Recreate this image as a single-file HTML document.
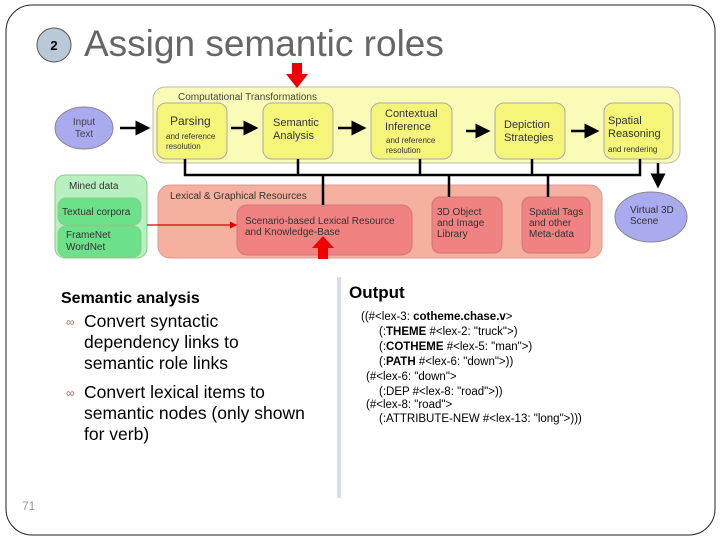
<!DOCTYPE html>
<html><head><meta charset="utf-8"><style>
body{margin:0;background:#fff;}
svg{display:block;font-family:"Liberation Sans",sans-serif;}
</style></head><body>
<svg width="720" height="540" viewBox="0 0 720 540" xmlns="http://www.w3.org/2000/svg">
<defs>
<marker id="ah" markerWidth="6" markerHeight="6" refX="5" refY="3" orient="auto"><path d="M0,0 L6,3 L0,6 z" fill="#000"/></marker>
<marker id="ar" markerWidth="6" markerHeight="6" refX="5" refY="3" orient="auto"><path d="M0,0 L6,3 L0,6 z" fill="#d00"/></marker>
</defs>
<rect x="6" y="5" width="709" height="530" rx="26" fill="#fff" stroke="#222" stroke-width="1"/>
<circle cx="54" cy="45" r="17" fill="#b9c9d7" stroke="#555" stroke-width="1"/>
<text x="54" y="50" font-size="13" font-weight="bold" text-anchor="middle">2</text>
<text x="84" y="56" font-size="37" fill="#666">Assign semantic roles</text>

<ellipse cx="84" cy="128" rx="29" ry="21" fill="#aaaaee" stroke="#888"/>
<text x="84" y="125" font-size="10" fill="#444" text-anchor="middle">Input</text>
<text x="84" y="137" font-size="10" fill="#444" text-anchor="middle">Text</text>
<line x1="120" y1="128" x2="148" y2="128" stroke="#000" stroke-width="2.5" marker-end="url(#ah)"/>

<rect x="153" y="87" width="527" height="76" rx="12" fill="#fbfbb8" stroke="#bbb"/>
<text x="178" y="100" font-size="10" fill="#444">Computational Transformations</text>
<g fill="#f5f57a" stroke="#aaa">
<rect x="157" y="103" width="70" height="56" rx="9"/>
<rect x="263" y="103" width="70" height="56" rx="9"/>
<rect x="371" y="103" width="81" height="56" rx="9"/>
<rect x="495" y="103" width="70" height="56" rx="9"/>
<rect x="604" y="103" width="69" height="56" rx="9"/>
</g>
<g fill="#333">
<text x="170" y="125" font-size="12">Parsing</text>
<text x="166" y="139" font-size="8">and reference</text>
<text x="166" y="149" font-size="8">resolution</text>
<text x="273" y="126" font-size="11">Semantic</text>
<text x="273" y="139" font-size="11">Analysis</text>
<text x="385" y="117" font-size="11">Contextual</text>
<text x="385" y="130" font-size="11">Inference</text>
<text x="386" y="143" font-size="8">and reference</text>
<text x="386" y="153" font-size="8">resolution</text>
<text x="504" y="128" font-size="11">Depiction</text>
<text x="504" y="141" font-size="11">Strategies</text>
<text x="608" y="124" font-size="11">Spatial</text>
<text x="608" y="137" font-size="11">Reasoning</text>
<text x="608" y="152" font-size="8">and rendering</text>
</g>
<g stroke="#000" stroke-width="2.5">
<line x1="231" y1="128" x2="256" y2="128" marker-end="url(#ah)"/>
<line x1="338" y1="128" x2="364" y2="128" marker-end="url(#ah)"/>
<line x1="466" y1="131" x2="488" y2="131" marker-end="url(#ah)"/>
<line x1="571" y1="131" x2="597" y2="131" marker-end="url(#ah)"/>
</g>
<rect x="292" y="63" width="10" height="12" fill="#e00"/>
<path d="M286,74 L308,74 L297,88 z" fill="#e00"/>

<rect x="55" y="175" width="92" height="83" rx="10" fill="#b8f0c0" stroke="#8c8"/>
<text x="69" y="189" font-size="10" fill="#333">Mined data</text>
<rect x="58" y="198" width="83" height="27" rx="8" fill="#6de08a" stroke="#8c8"/>
<text x="62" y="215" font-size="10" fill="#333">Textual corpora</text>
<rect x="58" y="226" width="83" height="31" rx="8" fill="#6de08a" stroke="#8c8"/>
<text x="66" y="238" font-size="10" fill="#333">FrameNet</text>
<text x="66" y="250" font-size="10" fill="#333">WordNet</text>

<rect x="158" y="185" width="444" height="73" rx="12" fill="#f5b0a0" stroke="#d99"/>
<text x="170" y="199" font-size="10" fill="#333">Lexical &amp; Graphical Resources</text>
<g fill="#f08282" stroke="#c77">
<rect x="237" y="205" width="175" height="50" rx="10"/>
<rect x="432" y="197" width="70" height="56" rx="8"/>
<rect x="522" y="197" width="68" height="56" rx="8"/>
</g>
<g fill="#333" font-size="10">
<text x="245" y="224">Scenario-based Lexical Resource</text>
<text x="245" y="235">and Knowledge-Base</text>
<text x="437" y="215">3D Object</text>
<text x="437" y="226">and  Image</text>
<text x="437" y="237">Library</text>
<text x="529" y="215">Spatial Tags</text>
<text x="529" y="226">and other</text>
<text x="529" y="237">Meta-data</text>
</g>
<line x1="147" y1="225" x2="236" y2="225" stroke="#d00" stroke-width="1.2" marker-end="url(#ar)"/>
<rect x="318" y="247" width="10" height="12" fill="#e00"/>
<path d="M312,248 L334,248 L323,236 z" fill="#e00"/>

<g stroke="#000" stroke-width="2.5" fill="none">
<path d="M185,159 V175 H640 V159"/>
<line x1="298" y1="159" x2="298" y2="175"/>
<line x1="420" y1="159" x2="420" y2="175"/>
<line x1="532" y1="159" x2="532" y2="175"/>
<line x1="323" y1="175" x2="323" y2="205"/>
<line x1="449" y1="175" x2="449" y2="197"/>
<line x1="548" y1="175" x2="548" y2="197"/>
<line x1="658" y1="163" x2="658" y2="186" marker-end="url(#ah)"/>
</g>
<ellipse cx="651" cy="217" rx="36" ry="25" fill="#aaaaee" stroke="#888"/>
<text x="630" y="213" font-size="10" fill="#333">Virtual 3D</text>
<text x="630" y="224" font-size="10" fill="#333">Scene</text>

<text x="61" y="303" font-size="16" font-weight="bold">Semantic analysis</text>
<g font-size="17.5">
<text x="66" y="326" font-size="12" fill="#b07050">∞</text>
<text x="84" y="327">Convert syntactic</text>
<text x="84" y="348">dependency links to</text>
<text x="84" y="369">semantic role links</text>
<text x="66" y="397" font-size="12" fill="#b07050">∞</text>
<text x="84" y="398">Convert lexical items to</text>
<text x="84" y="419">semantic nodes (only shown</text>
<text x="84" y="440">for verb)</text>
</g>
<text x="22" y="510" font-size="12" fill="#999">71</text>
<line x1="339" y1="277" x2="339" y2="498" stroke="#dcdcf0" stroke-width="4"/>

<text x="349" y="298" font-size="17" font-weight="bold">Output</text>
<g font-size="11.5">
<text x="361" y="320">((#&lt;lex-3: <tspan font-weight="bold">cotheme.chase.v</tspan>&gt;</text>
<text x="379" y="335">(:<tspan font-weight="bold">THEME</tspan> #&lt;lex-2: "truck"&gt;)</text>
<text x="379" y="350">(:<tspan font-weight="bold">COTHEME</tspan> #&lt;lex-5: "man"&gt;)</text>
<text x="379" y="365">(:<tspan font-weight="bold">PATH</tspan> #&lt;lex-6: "down"&gt;))</text>
<text x="366" y="380">(#&lt;lex-6: "down"&gt;</text>
<text x="379" y="395">(:DEP #&lt;lex-8: "road"&gt;))</text>
<text x="366" y="408">(#&lt;lex-8: "road"&gt;</text>
<text x="379" y="422">(:ATTRIBUTE-NEW #&lt;lex-13: "long"&gt;)))</text>
</g>
</svg>
</body></html>
